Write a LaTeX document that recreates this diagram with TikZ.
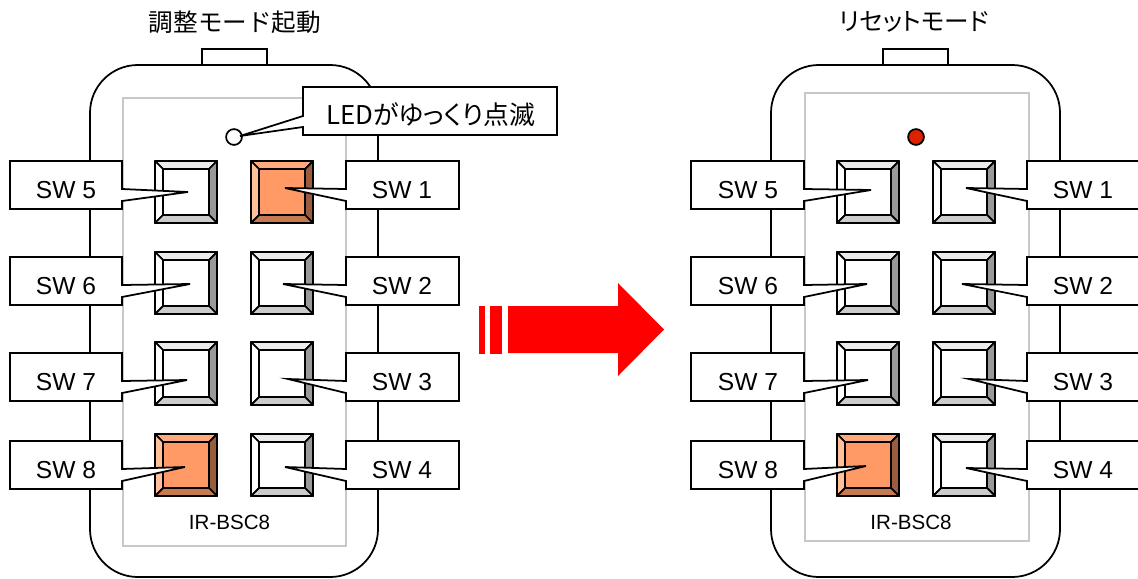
\documentclass[tikz,border=0pt]{standalone}
\usepackage{fontspec}
\setmainfont{Liberation Sans}
\newfontfamily\jpfont[RawFeature=+palt]{Noto Sans CJK JP}
\newfontfamily\jpwide{Noto Sans CJK JP}
\usepackage{tikz}

% one switch: 1 name, 2 left, 3 top, 4 right, 5 bottom, then the fills of the four sides
\newcommand{\swbutton}[9]{%
  \coordinate (#1a) at (#2,#3);
  \coordinate (#1b) at (#4,#3);
  \coordinate (#1c) at (#4,#5);
  \coordinate (#1d) at (#2,#5);
  \coordinate (#1e) at (#2+8,#3+8);
  \coordinate (#1f) at (#4-8,#3+8);
  \coordinate (#1g) at (#4-8,#5-8);
  \coordinate (#1h) at (#2+8,#5-8);
  \draw[bevel, fill=#7] (#1a) -- (#1b) -- (#1f) -- (#1e) -- cycle;
  \draw[bevel, fill=#8] (#1a) -- (#1e) -- (#1h) -- (#1d) -- cycle;
  \draw[bevel, fill=#9] (#1b) -- (#1c) -- (#1g) -- (#1f) -- cycle;
  \draw[bevel, fill=#6] (#1c) -- (#1d) -- (#1h) -- (#1g) -- cycle;
}
\newcommand{\whitesw}[5]{\swbutton{#1}{#2}{#3}{#4}{#5}{swbotw}{swtopw}{swleftw}{swrightw}\draw[bevel, fill=white] (#1e) rectangle (#1g);}
\newcommand{\orangesw}[5]{\swbutton{#1}{#2}{#3}{#4}{#5}{swboto}{swtopo}{swlefto}{swrighto}\draw[bevel, fill=swface] (#1e) rectangle (#1g);}

% callouts: 1 left, 2 right, 3 top, 4 bottom, 5 notch top, 6 notch bottom, 7 tip
\newcommand{\calloutR}[7]{%
  \draw[line, fill=white] (#1,#3) -- (#2,#3) -- (#2,#5) -- #7 -- (#2,#6) -- (#2,#4) -- (#1,#4) -- cycle;
}
\newcommand{\calloutL}[7]{%
  \draw[line, fill=white] (#1,#3) -- (#2,#3) -- (#2,#4) -- (#1,#4) -- (#1,#6) -- #7 -- (#1,#5) -- cycle;
}

\definecolor{swface}{HTML}{FF9966}
\definecolor{swtopo}{HTML}{FFAA7D}
\definecolor{swlefto}{HTML}{FFC09A}
\definecolor{swrighto}{HTML}{9A5C3C}
\definecolor{swboto}{HTML}{C67A50}
\definecolor{swtopw}{HTML}{EBEBEB}
\definecolor{swleftw}{HTML}{FFFFFF}
\definecolor{swrightw}{HTML}{999999}
\definecolor{swbotw}{HTML}{CCCCCC}
\definecolor{ledred}{HTML}{DD2200}
\definecolor{panelgray}{HTML}{C8C8C8}

\begin{document}
\begin{tikzpicture}[
    x=0.02cm, y=-0.02cm,
    line/.style={draw=black, line width=1pt, line join=miter},
    bevel/.style={draw=black, line width=1pt, line join=round},
    panel/.style={draw=panelgray, line width=1.1pt, fill=white},
    swlabel/.style={font=\fontsize{14}{16}\selectfont, inner sep=0pt},
    ledlabel/.style={font=\jpfont\fontsize{14.7}{16}\selectfont, inner sep=0pt},
    title/.style={font=\jpwide\fontsize{14}{16}\selectfont, inner sep=0pt},
    titlep/.style={font=\jpfont\fontsize{14}{16}\selectfont, inner sep=0pt},
    model/.style={font=\fontsize{11.7}{13}\selectfont, inner sep=0pt}
  ]
  \useasboundingbox (0,0) rectangle (1138,578);

  % left unit
  \node[title] (titleL) at (235,22) {調整モード起動};
  \draw[line, fill=white] (202,65) -- (202,49) -- (267,49) -- (267,65);
  \draw[line, fill=white, rounded corners=48*0.567pt] (90,65) rectangle (378,577);
  \draw[panel] (123,98) rectangle (346,546);
  \draw[line, fill=white] (234,137) circle [radius=4.5pt];

  \orangesw{b1}{251}{161}{313}{223}
  \whitesw{b2}{251}{252}{313}{314}
  \whitesw{b3}{251}{342}{313}{405}
  \whitesw{b4}{251}{434}{313}{496}
  \whitesw{b5}{155}{161}{217}{223}
  \whitesw{b6}{155}{252}{217}{314}
  \whitesw{b7}{155}{342}{217}{405}
  \orangesw{b8}{155}{434}{217}{496}

  \calloutR{10}{122}{161}{209}{189}{201}{(188,192)}
  \calloutR{10}{122}{257}{305}{285}{297}{(190,284)}
  \calloutR{10}{122}{353}{401}{381}{393}{(187,380)}
  \calloutR{10}{122}{441}{489}{469}{481}{(185,467)}
  \calloutL{346}{459}{161}{209}{189}{201}{(285,188)}
  \calloutL{346}{459}{257}{305}{285}{297}{(283,284)}
  \calloutL{346}{459}{353}{401}{381}{393}{(288,379)}
  \calloutL{346}{459}{441}{489}{469}{481}{(285,467)}
  \calloutL{303}{557}{87}{135}{116}{127}{(240,136)}

  \node[swlabel] (sw5L) at (66,190) {SW 5};
  \node[swlabel] (sw6L) at (66,286) {SW 6};
  \node[swlabel] (sw7L) at (66,382) {SW 7};
  \node[swlabel] (sw8L) at (66,470) {SW 8};
  \node[swlabel] (sw1L) at (402,190) {SW 1};
  \node[swlabel] (sw2L) at (402,286) {SW 2};
  \node[swlabel] (sw3L) at (402,382) {SW 3};
  \node[swlabel] (sw4L) at (402,470) {SW 4};
  \node[ledlabel] (ledL) at (431,115) {LEDがゆっくり点滅};
  \node[model] (modelL) at (229.5,522) {IR-BSC8};

  % arrow
  \fill[red] (479,306) rectangle (485,354);
  \fill[red] (490,306) rectangle (502,354);
  \fill[red] (508,306) -- (618,306) -- (618,283) -- (664,329.5) -- (618,376) -- (618,353) -- (508,353) -- cycle;

  % right unit
  \node[titlep] (titleR) at (914,22) {リセットモード};
  \draw[line, fill=white] (883,65) -- (883,49) -- (948,49) -- (948,65);
  \draw[line, fill=white, rounded corners=48*0.567pt] (771,65) rectangle (1060,577);
  \draw[panel] (805,93) rectangle (1029,541);
  \draw[line, fill=ledred] (916,137) circle [radius=4.5pt];

  \whitesw{d1}{933}{161}{995}{223}
  \whitesw{d2}{933}{252}{995}{314}
  \whitesw{d3}{933}{342}{995}{405}
  \whitesw{d4}{933}{434}{995}{496}
  \whitesw{d5}{837}{161}{899}{223}
  \whitesw{d6}{837}{252}{899}{314}
  \whitesw{d7}{837}{342}{899}{405}
  \orangesw{d8}{837}{434}{899}{496}

  \calloutR{691}{804}{161}{209}{189}{201}{(871,190)}
  \calloutR{691}{804}{257}{305}{285}{297}{(867,284)}
  \calloutR{691}{804}{353}{401}{381}{393}{(868,380)}
  \calloutR{691}{804}{441}{489}{469}{481}{(866,466)}
  \calloutL{1027}{1140}{161}{209}{189}{201}{(966,188)}
  \calloutL{1027}{1140}{257}{305}{285}{297}{(962,284)}
  \calloutL{1027}{1140}{353}{401}{381}{393}{(969,379)}
  \calloutL{1027}{1140}{441}{489}{469}{481}{(966,468)}

  \node[swlabel] (sw5R) at (748,190) {SW 5};
  \node[swlabel] (sw6R) at (748,286) {SW 6};
  \node[swlabel] (sw7R) at (748,382) {SW 7};
  \node[swlabel] (sw8R) at (748,470) {SW 8};
  \node[swlabel] (sw1R) at (1083,190) {SW 1};
  \node[swlabel] (sw2R) at (1083,286) {SW 2};
  \node[swlabel] (sw3R) at (1083,382) {SW 3};
  \node[swlabel] (sw4R) at (1083,470) {SW 4};
  \node[model] (modelR) at (911,522) {IR-BSC8};
\end{tikzpicture}
\end{document}
